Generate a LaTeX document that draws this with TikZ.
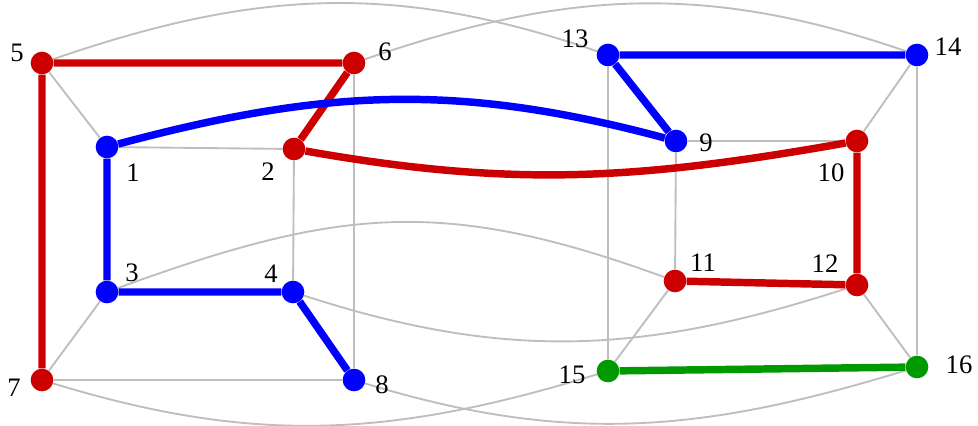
\documentclass[tikz,border=0pt]{standalone}
\usepackage{fontspec}
\setmainfont{Liberation Serif}
\usepackage{tikz}
\usetikzlibrary{calc,backgrounds}

\definecolor{pathred}{RGB}{204,0,0}
\definecolor{pathblue}{RGB}{0,0,255}
\definecolor{pathgreen}{RGB}{0,153,0}
\definecolor{edgegray}{RGB}{190,190,190}

\tikzset{
  vtx/.style={circle,inner sep=0pt,minimum size=17pt},
  gedge/.style={draw=edgegray,line width=1.4pt},
  pth/.style={line width=5.6pt},
  lbl/.style={inner sep=0pt,font=\fontsize{20}{20}\selectfont}
}

\begin{document}
\begin{tikzpicture}[x=0.75pt,y=0.75pt]
\useasboundingbox (0,0) rectangle (978,-425);

% vertices: name / x / y / colour
\foreach \v/\x/\y/\c in {5/42/63/pathred, 6/354/63/pathred, 1/107/147/pathblue,
    2/294/149/pathred, 3/107/292/pathblue, 4/293/292/pathblue, 7/42/380/pathred,
    8/354/380/pathblue, 13/608/55/pathblue, 14/917/55/pathblue, 9/676/141/pathblue,
    10/857/141/pathred, 11/675/281/pathred, 12/857/285/pathred,
    15/608/371/pathgreen, 16/917/367/pathgreen}
  \node[vtx,fill=\c] (n\v) at (\x,-\y) {};

% vertex numbers
\foreach \v/\dx/\dy in {5/-25/10, 6/31/11, 1/26/-26, 2/-26/-23, 3/25/19, 4/-22/18,
    7/-28/-8, 8/28/-5, 13/-33/16, 14/31/8, 9/30/-2, 10/-26/-32, 11/28/18,
    12/-32/21, 15/-36/-4, 16/42/2}
  \node[lbl] (l\v) at ($(n\v)+(\dx,\dy)$) {\v};

\begin{scope}[on background layer]
% cube edges
\foreach \a/\b in {1/2, 1/3, 3/4, 2/4, 5/6, 5/7, 6/8, 7/8, 1/5, 2/6, 3/7, 4/8,
    9/10, 9/11, 10/12, 11/12, 13/14, 13/15, 14/16, 15/16, 9/13, 10/14, 11/15, 12/16}
  \draw[gedge] (n\a) -- (n\b);
% links between the two cubes
\draw[gedge] (n3) to[out=20,in=160,looseness=1.1] (n11);
\draw[gedge] (n4) to[out=-18,in=-162] (n12);
\draw[gedge] (n5) to[out=19,in=161] (n13);
\draw[gedge] (n6) to[out=19,in=161] (n14);
\draw[gedge] (n7) to[out=-17,in=-163] (n15);
\draw[gedge] (n8) to[out=-17,in=-163] (n16);

% highlighted paths
\draw[pth,pathred] (n7) -- (n5) -- (n6) -- (n2) to[out=-10,in=-170] (n10) -- (n12) -- (n11);
\draw[pth,pathblue] (n8) -- (n4) -- (n3) -- (n1) to[out=15,in=165] (n9) -- (n13) -- (n14);
\draw[pth,pathgreen] (n15) -- (n16);
\end{scope}
\end{tikzpicture}
\end{document}
